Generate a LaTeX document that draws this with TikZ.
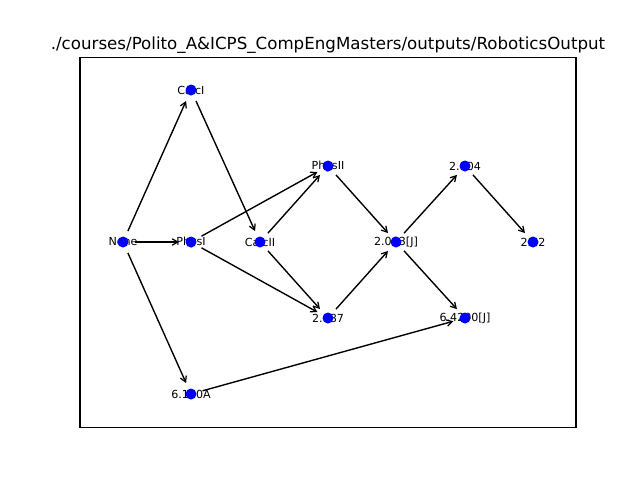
\documentclass[tikz,border=0pt]{standalone}
\usepackage{fontspec}
\setmainfont{DejaVu Sans}
\usetikzlibrary{arrows.meta}
\begin{document}
\begin{tikzpicture}[x=0.72pt,y=-0.72pt,
  hub/.style={circle,minimum size=24*0.72pt,inner sep=0pt,outer sep=0pt},
  lbl/.style={font=\fontsize{8}{9.6}\selectfont,inner sep=0pt,anchor=center},
  edge/.style={line width=1pt,-{Straight Barb[length=4pt,width=4.6pt,line width=0.9pt]}},
  dot/.style={fill={rgb,1:red,0;green,0;blue,1}}]
\useasboundingbox (0,0) rectangle (640,480);
\draw[line width=0.8pt] (80,57.6) rectangle (576,427.2);
\node[font=\fontsize{12}{14.4}\selectfont,anchor=base,inner sep=0pt] (title) at (328,49.3) {./courses/Polito\_A\&ICPS\_CompEngMasters/outputs/RoboticsOutput};
% node positions
\node[hub] (none) at (123,242) {};
\node[hub] (calci) at (191,90) {};
\node[hub] (physi) at (191,242) {};
\node[hub] (calcii) at (260,242) {};
\node[hub] (physii) at (328,166) {};
\node[hub] (t2087) at (328,318) {};
\node[hub] (t2003) at (396,242) {};
\node[hub] (t2004) at (465,166) {};
\node[hub] (t212) at (533,242) {};
\node[hub] (t6420) at (465,318) {};
\node[hub] (t6100) at (191,394) {};
% edges
\draw[edge] (none) -- (calci);
\draw[edge] (none) -- (physi);
\draw[edge] (none) -- (t6100);
\draw[edge] (calci) -- (calcii);
\draw[edge] (physi) -- (physii);
\draw[edge] (physi) -- (t2087);
\draw[edge] (calcii) -- (physii);
\draw[edge] (calcii) -- (t2087);
\draw[edge] (physii) -- (t2003);
\draw[edge] (t2087) -- (t2003);
\draw[edge] (t2003) -- (t2004);
\draw[edge] (t2003) -- (t6420);
\draw[edge] (t2004) -- (t212);
\draw[edge] (t6100) -- (t6420);
% labels
\node[lbl] (lnone) at (none) {None};
\node[lbl] (lcalci) at (calci) {CalcI};
\node[lbl] (lphysi) at (physi) {PhysI};
\node[lbl] (lcalcii) at (calcii) {CalcII};
\node[lbl] (lphysii) at (physii) {PhysII};
\node[lbl] (l2087) at (t2087) {2.087};
\node[lbl] (l2003) at (t2003) {2.003[J]};
\node[lbl] (l2004) at (t2004) {2.004};
\node[lbl] (l212) at (t212) {2.12};
\node[lbl] (l6420) at (t6420) {6.4200[J]};
\node[lbl] (l6100) at (t6100) {6.100A};
% dots drawn over labels
\foreach \n in {none,calci,physi,calcii,physii,t2087,t2003,t2004,t212,t6420,t6100}
  \fill[dot] (\n.center) circle (5.5);
\end{tikzpicture}
\end{document}
